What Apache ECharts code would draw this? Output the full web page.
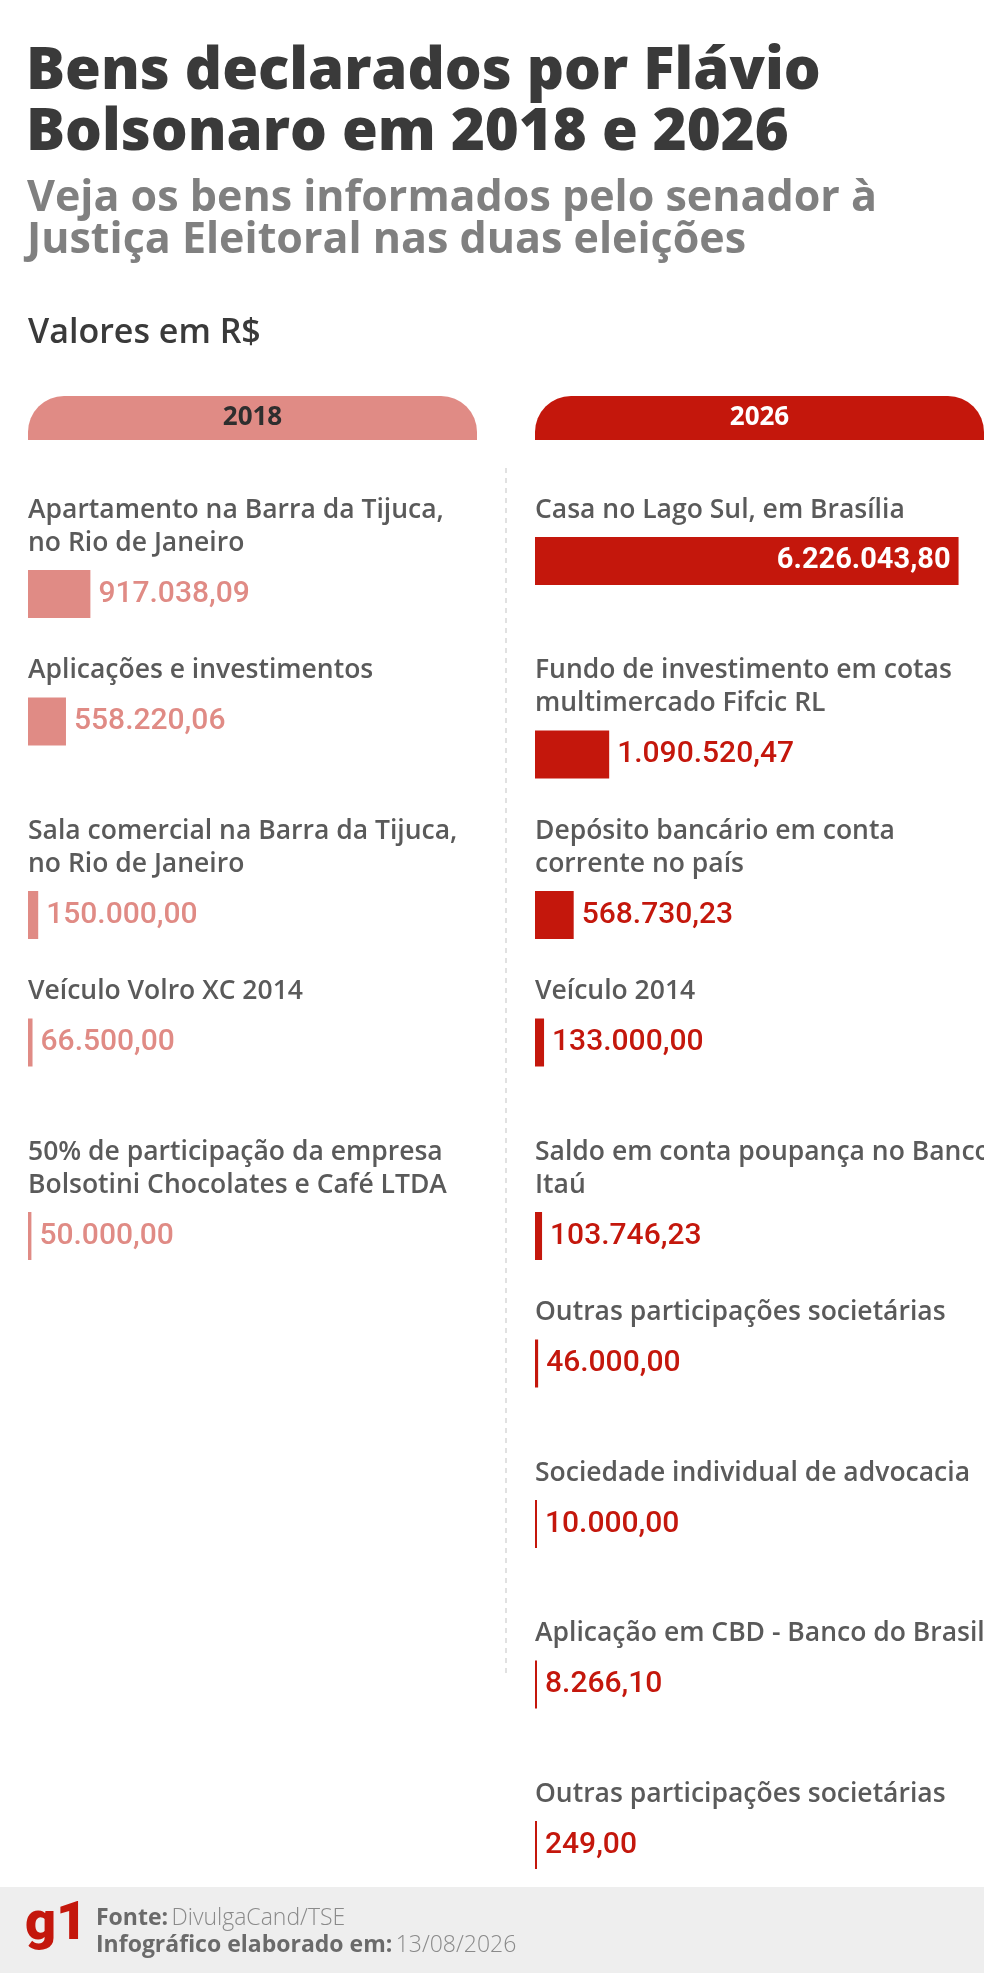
<!DOCTYPE html>
<html>
<head>
<meta charset="utf-8">
<script src="https://cdn.jsdelivr.net/npm/echarts@6/dist/echarts.min.js"></script>
<style>
html,body{margin:0;padding:0;background:#fff;}
#c{width:984px;height:1973px;}
</style>
</head>
<body>
<div id="c"></div>
<script>
// ---- data ----
const labels2018 = [
  "Apartamento na Barra da Tijuca,\nno Rio de Janeiro",
  "Aplicações e investimentos",
  "Sala comercial na Barra da Tijuca,\nno Rio de Janeiro",
  "Veículo Volro XC 2014",
  "50% de participação da empresa\nBolsotini Chocolates e Café LTDA"
];
const values2018 = [917038.09, 558220.06, 150000.00, 66500.00, 50000.00];

const labels2026 = [
  "Casa no Lago Sul, em Brasília",
  "Fundo de investimento em cotas\nmultimercado Fifcic RL",
  "Depósito bancário em conta\ncorrente no país",
  "Veículo 2014",
  "Saldo em conta poupança no Banco\nItaú",
  "Outras participações societárias",
  "Sociedade individual de advocacia",
  "Aplicação em CBD - Banco do Brasil",
  "Outras participações societárias"
];
const values2026 = [6226043.80, 1090520.47, 568730.23, 133000.00, 103746.23, 46000.00, 10000.00, 8266.10, 249.00];

const years = ["2018", "2026"];

// ---- styles ----
const SALMON = '#e08b85';
const RED = '#c4170c';
const LABEL_COLOR = '#5a5a5a';
const FONT = '"Open Sans", Roboto, sans-serif';
const NUMFONT = 'Roboto, "Open Sans", sans-serif';
const LINE_H = 33;
const BAR_OFF = 27;
const BAR_H = 48;

function fmtBR(v){
  const parts = v.toFixed(2).split('.');
  const int = parts[0].replace(/\B(?=(\d{3})+(?!\d))/g, '.');
  return int + ',' + parts[1];
}

function makeRender(labels, color){
  return function(params, api){
    const v = api.value(0), r = api.value(1);
    const p0 = api.coord([0, r]);
    const p1 = api.coord([v, r]);
    const lines = labels[params.dataIndex].split('\n');
    const children = lines.map((t, k) => ({
      type: 'text',
      style: {
        text: t, x: p0[0], y: p0[1] + k * LINE_H,
        textVerticalAlign: 'middle', textAlign: 'left',
        fill: LABEL_COLOR, fontFamily: FONT, fontWeight: 600, fontSize: 26.5
      }
    }));
    const by = p0[1] + BAR_OFF + LINE_H * (lines.length - 1);
    const w = Math.max(p1[0] - p0[0], 2);
    children.push({
      type: 'rect',
      shape: {x: p0[0], y: by, width: w, height: BAR_H},
      style: {fill: color}
    });
    const inside = w > 300;
    children.push({
      type: 'text',
      style: {
        text: fmtBR(v),
        x: inside ? p0[0] + w - 8 : p0[0] + w + 8,
        y: by + BAR_H / 2,
        textAlign: inside ? 'right' : 'left',
        textVerticalAlign: 'middle',
        fill: inside ? '#ffffff' : color,
        fontFamily: NUMFONT, fontWeight: inside ? 700 : 500, fontSize: inside ? 29 : 30
      }
    });
    return {type: 'group', children};
  };
}

const chart = echarts.init(document.getElementById('c'), null, {renderer: 'canvas', width: 984, height: 1973});

const gridTop = 510, rowPitch = 160.5, nRows = 9;

chart.setOption({
  backgroundColor: '#ffffff',
  animation: false,
  grid: [
    {left: 28, width: 449, top: gridTop, height: rowPitch * nRows},
    {left: 535, width: 449, top: gridTop, height: rowPitch * nRows}
  ],
  xAxis: [
    {gridIndex: 0, type: 'value', min: 0, max: 6600000, show: false},
    {gridIndex: 1, type: 'value', min: 0, max: 6600000, show: false}
  ],
  yAxis: [
    {gridIndex: 0, type: 'value', min: 0, max: nRows, inverse: true, show: false},
    {gridIndex: 1, type: 'value', min: 0, max: nRows, inverse: true, show: false}
  ],
  series: [
    {
      type: 'custom', name: years[0], xAxisIndex: 0, yAxisIndex: 0,
      renderItem: makeRender(labels2018, SALMON),
      encode: {x: 0, y: 1},
      data: values2018.map((v, i) => [v, i])
    },
    {
      type: 'custom', name: years[1], xAxisIndex: 1, yAxisIndex: 1,
      renderItem: makeRender(labels2026, RED),
      encode: {x: 0, y: 1},
      data: values2026.map((v, i) => [v, i])
    }
  ],
  graphic: [
    {type: 'text', style: {text: 'Bens declarados por Flávio', x: 26, y: 72, textVerticalAlign: 'middle', fill: '#3a3a3a', fontFamily: FONT, fontWeight: 800, fontSize: 58}},
    {type: 'text', style: {text: 'Bolsonaro em 2018 e 2026', x: 26, y: 133, textVerticalAlign: 'middle', fill: '#3a3a3a', fontFamily: FONT, fontWeight: 800, fontSize: 58}},
    {type: 'text', style: {text: 'Veja os bens informados pelo senador à', x: 27, y: 199, textVerticalAlign: 'middle', fill: '#808080', fontFamily: FONT, fontWeight: 700, fontSize: 43}},
    {type: 'text', style: {text: 'Justiça Eleitoral nas duas eleições', x: 27, y: 241, textVerticalAlign: 'middle', fill: '#808080', fontFamily: FONT, fontWeight: 700, fontSize: 43}},
    {type: 'text', style: {text: 'Valores em R$', x: 28, y: 333, textVerticalAlign: 'middle', fill: '#3a3a3a', fontFamily: FONT, fontWeight: 600, fontSize: 34}},
    {type: 'rect', shape: {x: 28, y: 396, width: 449, height: 44, r: [36, 36, 0, 0]}, style: {fill: SALMON}},
    {type: 'rect', shape: {x: 535, y: 396, width: 449, height: 44, r: [36, 36, 0, 0]}, style: {fill: RED}},
    {type: 'text', style: {text: years[0], x: 252.5, y: 418, textAlign: 'center', textVerticalAlign: 'middle', fill: '#2e2e2e', fontFamily: FONT, fontWeight: 700, fontSize: 26}},
    {type: 'text', style: {text: years[1], x: 759.5, y: 418, textAlign: 'center', textVerticalAlign: 'middle', fill: '#ffffff', fontFamily: FONT, fontWeight: 700, fontSize: 26}},
    {type: 'line', shape: {x1: 506, y1: 468, x2: 506, y2: 1677}, style: {stroke: '#c4c4c4', lineWidth: 1, lineDash: [5, 5]}},
    {type: 'rect', shape: {x: 0, y: 1887, width: 984, height: 86}, style: {fill: '#eeeeee'}},
    {type: 'text', style: {text: 'g1', x: 25, y: 1925, textVerticalAlign: 'middle', fill: RED, fontFamily: 'Roboto, sans-serif', fontWeight: 900, fontSize: 54}},
    {type: 'text', style: {
      text: '{b|Fonte:} {l|DivulgaCand/TSE}\n{b|Infográfico elaborado em:} {l|13/08/2026}',
      x: 96, y: 1932, textVerticalAlign: 'middle',
      rich: {
        b: {fill: '#6a6a6a', fontFamily: FONT, fontWeight: 700, fontSize: 23, lineHeight: 27},
        l: {fill: '#8a8a8a', fontFamily: FONT, fontWeight: 300, fontSize: 23, lineHeight: 27}
      }
    }}
  ]
});
</script>
</body>
</html>
